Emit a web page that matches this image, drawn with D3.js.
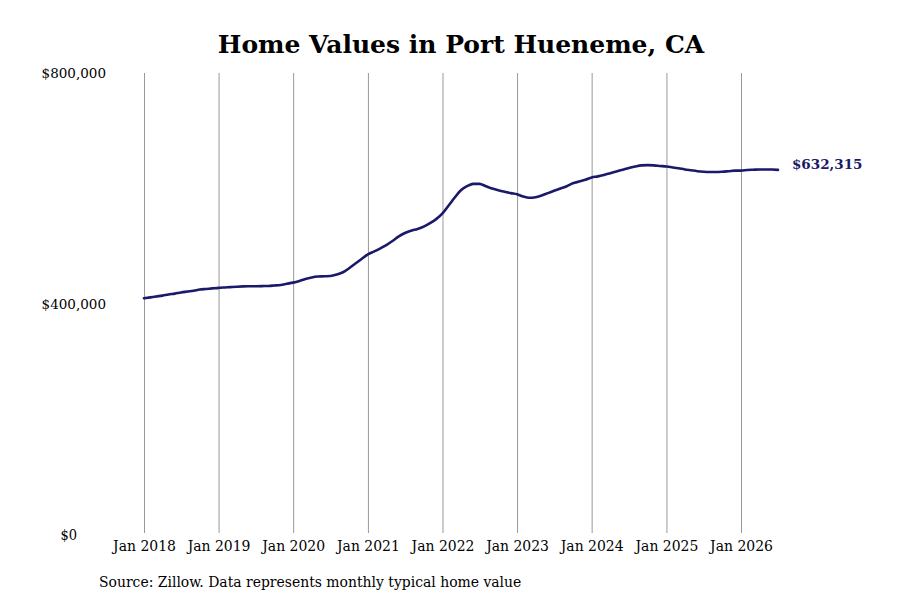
<!DOCTYPE html>
<html>
<head>
<meta charset="utf-8">
<script src="https://cdn.jsdelivr.net/npm/d3@7"></script>
<style>
    body { margin: 0; background: #fff; }
    svg { display: block; }
</style>
</head>
<body>
<div id="chart"></div>
<script>
// monthly typical home value, Jan 2018 .. Jul 2026 (thousands of dollars)
const startMonth = "2018-01";
const homeValues = [
    410, 411.5, 413, 414.5, 416.5, 418, 420, 421.5, 423, 425, 426, 427,
    428, 428.7, 429.3, 430, 430.5, 430.7, 430.8, 431, 431.2, 432, 433, 435,
    437, 440, 443.5, 446, 447.5, 448, 448.5, 451, 455, 462, 470, 478,
    486, 491, 496, 502, 509, 517, 523, 527, 530, 534, 540, 547,
    557, 571, 584, 597, 604, 608, 608, 604, 600, 597, 594.5, 592,
    590, 586, 584, 585, 588, 592, 596, 600, 604, 609, 612, 615,
    619, 621, 623.5, 626.5, 629.5, 632.5, 635.5, 638, 640, 640.5, 640, 639,
    638, 636.5, 635, 633, 631.5, 630, 629, 628.5, 628.5, 629, 630, 631,
    631, 632, 632.5, 633, 633, 633, 632.315
];
const tickYears = [2018, 2019, 2020, 2021, 2022, 2023, 2024, 2025, 2026];
const yTicks = [0, 400000, 800000];
const lastLabel = "$632,315";
const titleText = "Home Values in Port Hueneme, CA";
const sourceText = "Source: Zillow. Data represents monthly typical home value";

const width = 900, height = 600;
const lineColor = "#1a196a";

const parseMonth = d3.timeParse("%Y-%m");
const start = parseMonth(startMonth);
const data = homeValues.map((v, i) => ({
    date: d3.timeMonth.offset(start, i),
    value: v * 1000
}));

const svg = d3.select("#chart").append("svg")
    .attr("width", width)
    .attr("height", height);

let x = d3.scaleTime()
    .domain([new Date(2018, 0, 1), new Date(2026, 0, 1)])
    .range([144, 741]);

let y = d3.scaleLinear()
    .domain([0, 800000])
    .range([535, 73]);

// title
svg.append("text")
    .attr("x", 461)
    .attr("y", 53)
    .attr("text-anchor", "middle")
    .style("font-family", "DejaVu Serif")
    .style("font-weight", "bold")
    .style("font-size", "25px")
    .attr("fill", "#000")
    .text(titleText);

// vertical grid lines + x labels
const xAxis = d3.axisBottom(x)
    .tickValues(tickYears.map(yr => new Date(yr, 0, 1)))
    .tickSize(-(533 - 73))
    .tickFormat(d3.timeFormat("Jan %Y"));

const gx = svg.append("g")
    .attr("transform", "translate(0,533)")
    .call(xAxis);
gx.select(".domain").remove();
gx.selectAll(".tick line")
    .attr("stroke", "#999")
    .attr("stroke-width", 1);
gx.selectAll(".tick text")
    .attr("y", 18)
    .attr("dy", "0")
    .style("font-family", "DejaVu Serif Condensed")
    .style("font-size", "15.5px")
    .attr("fill", "#000");

// y labels
const yAxis = d3.axisLeft(y)
    .tickValues(yTicks)
    .tickSize(0)
    .tickFormat(d => "$" + d3.format(",")(d));

const gy = svg.append("g")
    .attr("transform", "translate(106,0)")
    .call(yAxis);
gy.select(".domain").remove();
gy.selectAll(".tick text")
    .attr("x", 0)
    .style("font-family", "DejaVu Serif")
    .style("font-size", "13.5px")
    .attr("fill", "#000");
// the zero label sits closer in and is narrower
gy.selectAll(".tick text")
    .filter(d => d === 0)
    .attr("x", -29)
    .style("font-family", "DejaVu Serif Condensed")
    .style("font-size", "14.5px");

// value line
const line = d3.line()
    .x(d => x(d.date))
    .y(d => y(d.value))
    .curve(d3.curveMonotoneX);

svg.append("path")
    .datum(data)
    .attr("fill", "none")
    .attr("stroke", lineColor)
    .attr("stroke-width", 2.6)
    .attr("stroke-linejoin", "round")
    .attr("stroke-linecap", "round")
    .attr("d", line);

// end label
const last = data[data.length - 1];
svg.append("text")
    .attr("x", x(last.date) + 14)
    .attr("y", y(last.value) - 6)
    .attr("dy", "0.35em")
    .style("font-family", "DejaVu Serif")
    .style("font-weight", "bold")
    .style("font-size", "13.5px")
    .attr("fill", lineColor)
    .text(lastLabel);

// source note
svg.append("text")
    .attr("x", 99)
    .attr("y", 587)
    .style("font-family", "DejaVu Serif Condensed")
    .style("font-size", "15.5px")
    .attr("fill", "#000")
    .text(sourceText);
</script>
</body>
</html>
